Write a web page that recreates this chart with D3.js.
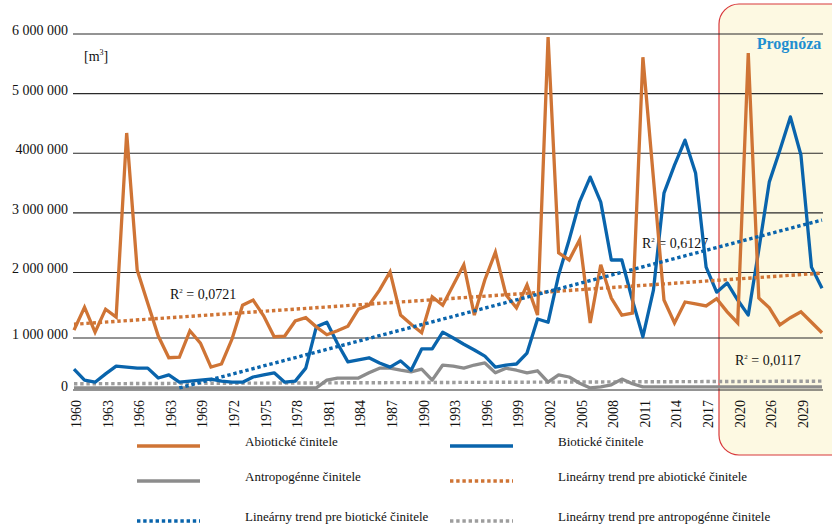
<!DOCTYPE html>
<html>
<head>
<meta charset="utf-8">
<script src="https://cdn.jsdelivr.net/npm/d3@7"></script>
<style>
body { margin: 0; background: #fff; }
</style>
</head>
<body>
<svg id="chart" width="832" height="525" style="font-family: 'Liberation Serif', 'Times New Roman', 'DejaVu Serif', serif;"></svg>
<script>

// DATA  [m3]  one value per year, 1960 ... end of forecast
var abioticke = [1120000, 1470000, 1090000, 1440000, 1320000, 4340000, 2040000, 1530000, 1030000, 620000,
                 630000, 1110000, 900000, 440000, 500000, 980000, 1500000, 1580000, 1340000, 1020000,
                 1030000, 1260000, 1310000, 1170000, 1050000, 1110000, 1180000, 1440000, 1500000, 1730000,
                 2010000, 1350000, 1210000, 1080000, 1630000, 1500000, 1810000, 2130000, 1350000, 1890000,
                 2340000, 1660000, 1460000, 1810000, 1350000, 5950000, 2330000, 2210000, 2550000, 1230000,
                 2130000, 1610000, 1350000, 1380000, 5610000, 3580000, 1580000, 1230000, 1550000, 1520000,
                 1490000, 1600000, 1400000, 1230000, 5680000, 1610000, 1460000, 1200000, 1310000, 1400000,
                 1240000, 1080000];

var bioticke = [400000, 190000, 150000, 310000, 460000, 440000, 420000, 420000, 230000, 290000,
                150000, 170000, 190000, 210000, 170000, 150000, 150000, 250000, 290000, 330000,
                150000, 170000, 420000, 1170000, 1240000, 900000, 540000, 580000, 620000, 520000,
                440000, 560000, 380000, 790000, 790000, 1090000, 1000000, 880000, 770000, 650000,
                440000, 480000, 500000, 710000, 1290000, 1240000, 1960000, 2550000, 3190000, 3600000,
                3180000, 2210000, 2210000, 1580000, 1020000, 1730000, 3330000, 3800000, 4220000, 3670000,
                2090000, 1700000, 1840000, 1580000, 1350000, 2380000, 3520000, 4050000, 4610000, 3970000,
                2090000, 1760000];

var antropogenne = [40000, 40000, 40000, 40000, 40000, 40000, 40000, 40000, 40000, 40000,
                    40000, 40000, 40000, 40000, 40000, 40000, 40000, 40000, 40000, 40000,
                    40000, 40000, 40000, 40000, 190000, 230000, 230000, 230000, 330000, 420000,
                    420000, 380000, 350000, 400000, 190000, 480000, 460000, 420000, 480000, 520000,
                    330000, 420000, 380000, 330000, 370000, 150000, 290000, 250000, 130000, 40000,
                    60000, 100000, 210000, 120000, 60000, 60000, 60000, 60000, 60000, 60000,
                    60000, 60000, 60000, 60000, 60000, 60000, 60000, 60000, 60000, 60000,
                    60000, 60000];

// LINEAR TRENDS  [first year index, last year index] and values at those ends
var trend_abio_idx = [0, 71],  trend_abio = [1210000, 1990000];
var trend_bio_idx  = [10, 71], trend_bio  = [40000, 2880000];
var trend_antr_idx = [0, 71],  trend_antr = [120000, 170000];

var r2_labels = ["0,0721", "0,6127", "0,0117"];

// TICKS
var y_ticks  = [0, 1000000, 2000000, 3000000, 4000000, 5000000, 6000000];
var y_labels = ["0", "1 000 000", "2 000 000", "3 000 000", "4000 000", "5 000 000", "6 000 000"];
var x_tick_idx = [0, 3, 6, 9, 12, 15, 18, 21, 24, 27, 30, 33, 36, 39, 42, 45, 48, 51, 54, 57, 60, 63, 66, 69];
var x_labels = ["1960", "1963", "1966", "1963", "1969", "1972", "1975", "1978", "1981", "1984", "1987", "1990",
                "1993", "1996", "1999", "2002", "2005", "2008", "2011", "2014", "2017", "2020", "2026", "2029"];

var legend_names = ["Abiotické činitele", "Biotické činitele",
                    "Antropogénne činitele", "Lineárny trend pre abiotické činitele",
                    "Lineárny trend pre biotické činitele", "Lineárny trend pre antropogénne činitele"];

var C_ABIO = "#cf7435", C_BIO = "#0964ac", C_ANTR = "#8c8c8c", C_ANTR_T = "#9d9d9d";
var FONT = "'Liberation Serif', 'Times New Roman', 'DejaVu Serif', serif";

var svg = d3.select("#chart");

var x = d3.scaleLinear().domain([0, abioticke.length - 1]).range([74, 822]);
// the value axis of the picture is not evenly spaced below 2 mil.
var y = d3.scaleLinear().domain([0, 1000000, 2000000, 6000000]).range([390, 338, 272.5, 34]);

draw_forecast_box();
draw_grid();
draw_axes_text();
draw_series();
draw_legend();


function label(sel){
    return sel.attr("font-family", FONT).attr("fill", "#111");
}


function draw_forecast_box(){
    svg.append("rect")
        .attr("x", 719).attr("y", 4)
        .attr("width", 160).attr("height", 451)
        .attr("rx", 20).attr("ry", 20)
        .attr("fill", "#fdf9e2")
        .attr("stroke", "#d8383a")
        .attr("stroke-width", 1.2);

    label(svg.append("text"))
        .attr("x", 789).attr("y", 49)
        .attr("text-anchor", "middle")
        .attr("font-weight", "bold")
        .attr("font-size", 16)
        .attr("fill", "#1f8fd0")
        .text("Prognóza");
}


function draw_grid(){
    svg.append("g").selectAll("line")
        .data(y_ticks)
        .enter().append("line")
        .attr("x1", 73).attr("x2", 823)
        .attr("y1", function(d){ return y(d); })
        .attr("y2", function(d){ return y(d); })
        .attr("stroke", "#2a2a2a")
        .attr("stroke-width", 1.2);
}


function draw_axes_text(){
    // Y LABELS
    label(svg.append("g")).selectAll("text")
        .data(y_ticks)
        .enter().append("text")
        .attr("x", 68)
        .attr("y", function(d){ return y(d) - 4; })
        .attr("dy", "0.35em")
        .attr("text-anchor", "end")
        .attr("font-size", 14)
        .text(function(d, i){ return y_labels[i]; });

    // X LABELS (rotated)
    label(svg.append("g")).selectAll("text")
        .data(x_tick_idx)
        .enter().append("text")
        .attr("transform", function(d){ return "translate(" + (x(d) + 2) + ",400) rotate(-90)"; })
        .attr("dy", "0.35em")
        .attr("text-anchor", "end")
        .attr("font-size", 14)
        .text(function(d, i){ return x_labels[i]; });

    // UNIT
    var u = label(svg.append("text")).attr("x", 84).attr("y", 61).attr("font-size", 14);
    u.append("tspan").text("[m");
    u.append("tspan").attr("font-size", 8).attr("dy", -6).text("3");
    u.append("tspan").attr("dy", 6).text("]");

    // R2 LABELS
    var pos = [[170, 299], [642, 248], [735, 365]];
    pos.forEach(function(p, i){
        var t = label(svg.append("text")).attr("x", p[0]).attr("y", p[1]).attr("font-size", 14);
        t.append("tspan").text("R");
        t.append("tspan").attr("font-size", 7).attr("dy", -6).text("2");
        t.append("tspan").attr("dy", 6).text(" = " + r2_labels[i]);
    });
}


function draw_series(){
    var line = d3.line()
        .x(function(d, i){ return x(i); })
        .y(function(d){ return y(d); });

    var trend = function(idx, vals){
        return d3.line()
            .x(function(d, i){ return x(idx[i]); })
            .y(function(d){ return y(d); })(vals);
    };

    // TREND LINES (dotted)
    svg.append("path").attr("d", trend(trend_antr_idx, trend_antr))
        .attr("fill", "none").attr("stroke", C_ANTR_T).attr("stroke-width", 3.4).attr("stroke-dasharray", "3.4,2.8");

    svg.append("path").attr("d", line(antropogenne))
        .attr("fill", "none").attr("stroke", C_ANTR).attr("stroke-width", 3.3).attr("stroke-linejoin", "round");

    svg.append("path").attr("d", line(bioticke))
        .attr("fill", "none").attr("stroke", C_BIO).attr("stroke-width", 3.3).attr("stroke-linejoin", "round");

    svg.append("path").attr("d", line(abioticke))
        .attr("fill", "none").attr("stroke", C_ABIO).attr("stroke-width", 3.3).attr("stroke-linejoin", "miter");

    svg.append("path").attr("d", trend(trend_abio_idx, trend_abio))
        .attr("fill", "none").attr("stroke", C_ABIO).attr("stroke-width", 3.4).attr("stroke-dasharray", "3.4,2.8");

    svg.append("path").attr("d", trend(trend_bio_idx, trend_bio))
        .attr("fill", "none").attr("stroke", C_BIO).attr("stroke-width", 3.4).attr("stroke-dasharray", "3.4,2.8");
}


function draw_legend(){
    var items = [
        {c: C_ABIO, dash: null}, {c: C_BIO, dash: null},
        {c: C_ANTR, dash: null}, {c: C_ABIO, dash: "3.4,2.8"},
        {c: C_BIO, dash: "3.4,2.8"}, {c: C_ANTR_T, dash: "3.4,2.8"}
    ];
    var row_y = [446, 481, 521];
    var col_x = [137, 450];

    items.forEach(function(it, i){
        var cx = col_x[i % 2], cy = row_y[Math.floor(i / 2)];
        svg.append("line")
            .attr("x1", cx).attr("x2", cx + 63)
            .attr("y1", cy).attr("y2", cy)
            .attr("stroke", it.c).attr("stroke-width", 3.5)
            .attr("stroke-dasharray", it.dash);
        label(svg.append("text"))
            .attr("x", cx + 108).attr("y", cy - 5)
            .attr("dy", "0.35em")
            .attr("font-size", 13)
            .text(legend_names[i]);
    });
}

</script>
</body>
</html>
